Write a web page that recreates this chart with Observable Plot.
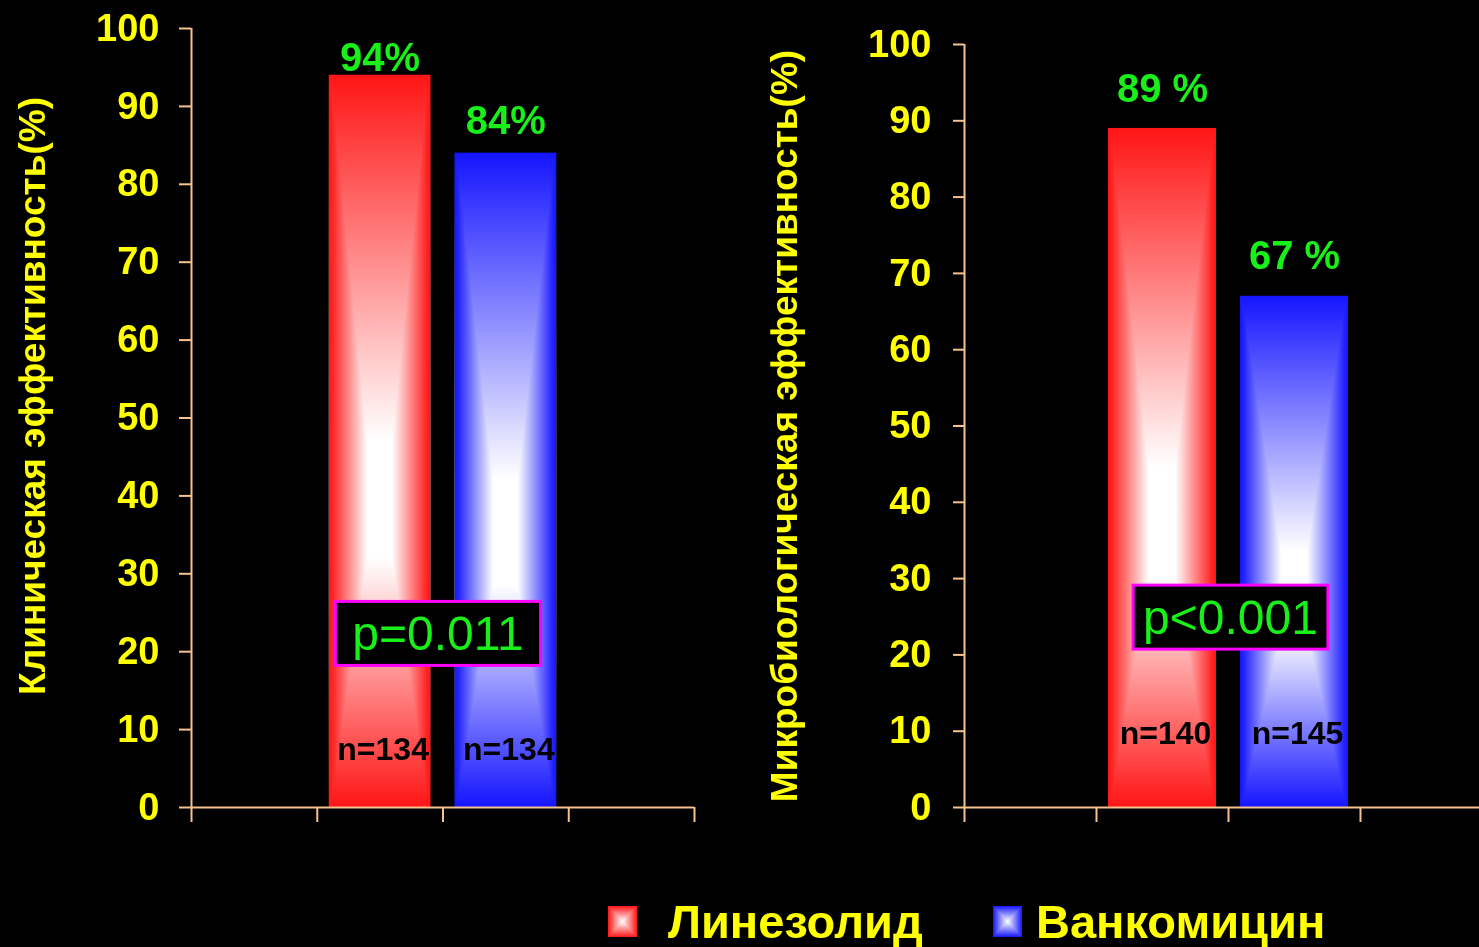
<!DOCTYPE html>
<html><head><meta charset="utf-8">
<script src="https://cdn.jsdelivr.net/npm/d3@7"></script>
<script src="https://cdn.jsdelivr.net/npm/@observablehq/plot@0.6"></script>
<style>
html,body{margin:0;background:#000;overflow:hidden}
#wrap{position:relative;width:1479px;height:947px;overflow:hidden;background:#000;font-family:"Liberation Sans",Arial,sans-serif}
.chart{position:absolute;top:0}
.litem{position:absolute;top:896px;display:flex;align-items:center;height:50px}
.sw{width:29px;height:31px;background-blend-mode:darken;box-sizing:border-box}
.lt{color:#ffff00;font-weight:bold;font-size:47px;line-height:1;white-space:nowrap}
</style></head>
<body>
<svg width="0" height="0" style="position:absolute">
<defs>
<linearGradient id="redV" x1="0" y1="0" x2="0" y2="1"><stop offset="0" stop-color="#ff1515"/><stop offset="0.5" stop-color="#ffffff"/><stop offset="0.66" stop-color="#ffffff"/><stop offset="1" stop-color="#ff1515"/></linearGradient>
<linearGradient id="redH" x1="0" y1="0" x2="1" y2="0"><stop offset="0" stop-color="#ff1515"/><stop offset="0.04" stop-color="#ff2525"/><stop offset="0.38" stop-color="#ffffff"/><stop offset="0.62" stop-color="#ffffff"/><stop offset="0.96" stop-color="#ff2525"/><stop offset="1" stop-color="#ff1515"/></linearGradient>
<linearGradient id="blueV" x1="0" y1="0" x2="0" y2="1"><stop offset="0" stop-color="#1515ff"/><stop offset="0.5" stop-color="#ffffff"/><stop offset="0.66" stop-color="#ffffff"/><stop offset="1" stop-color="#1515ff"/></linearGradient>
<linearGradient id="blueH" x1="0" y1="0" x2="1" y2="0"><stop offset="0" stop-color="#1515ff"/><stop offset="0.04" stop-color="#2525ff"/><stop offset="0.38" stop-color="#ffffff"/><stop offset="0.62" stop-color="#ffffff"/><stop offset="0.96" stop-color="#2525ff"/><stop offset="1" stop-color="#1515ff"/></linearGradient>
</defs></svg>
<div id="wrap">
  <div id="left" class="chart" style="left:0"></div>
  <div id="right" class="chart" style="left:740px"></div>
</div>
<script>
// ---- data ----
const drugs = ["Линезолид", "Ванкомицин"];
const clinicalValues = [94, 84];
const clinicalLabels = ["94%", "84%"];
const clinicalN = [134, 134];
const microValues = [89, 67];
const microLabels = ["89 %", "67 %"];
const microN = [140, 145];
const pValues = ["p=0.011", "p<0.001"];
const yTitles = ["Клиническая эффективность(%)", "Микробиологическая эффективность(%)"];
const yTicks = [0, 10, 20, 30, 40, 50, 60, 70, 80, 90, 100];
const slotTicks = [0, 1, 2, 3, 4];

// ---- style ----
const AXIS = "#f6c28e", YELLOW = "#ffff00", GREEN = "#19f019", MAGENTA = "#ff00ff";
const gradIds = ["red", "blue"];
const FONT = '"Liberation Sans", Arial, sans-serif';

function chart(cfg) {
  const rows = drugs.map((drug, i) => ({drug, slot: i + 1, value: cfg.values[i], n: cfg.ns[i], label: cfg.labels[i], grad: gradIds[i], i}));
  const marks = [];
  rows.forEach(r => {
    const opts = {x1: d => d.slot, x2: d => d.slot + 1, y1: () => 0, y2: d => d.value, insetLeft: 12, insetRight: 12};
    marks.push(Plot.rectY([r], {...opts, fill: `url(#${r.grad}V)`}));
    marks.push(Plot.rectY([r], {...opts, fill: `url(#${r.grad}H)`, mixBlendMode: "darken"}));
    marks.push(Plot.text([r], {x: d => d.slot + 0.5, y: d => d.value, text: d => d.label, lineAnchor: "bottom", dy: cfg.valueDy[r.i], fill: GREEN, fontSize: 40, fontWeight: "bold"}));
  });
  marks.push(Plot.text(rows, {x: d => d.slot + 0.5, y: () => 0, text: d => `n=${d.n}`, lineAnchor: "bottom", dy: cfg.nDy, dx: 3, fill: "#000", fontSize: 32, fontWeight: "bold"}));
  marks.push(Plot.text([cfg.p], {x: () => 2, y: () => cfg.pY, text: d => d, dx: cfg.pDx, lineAnchor: "middle", fill: GREEN, fontSize: 48, fontWeight: "normal"}));
  marks.push(Plot.ruleX([0], {stroke: AXIS, strokeWidth: 2}));
  marks.push(Plot.ruleY([0], {stroke: AXIS, strokeWidth: 2}));
  marks.push(Plot.axisY({ticks: yTicks, tickSize: cfg.tickSize, tickPadding: cfg.tickPadding, color: YELLOW, stroke: AXIS, strokeWidth: 2, fontSize: 38, fontWeight: "bold", label: null}));
  marks.push(Plot.axisX({ticks: slotTicks, tickSize: 15, tickFormat: () => "", color: AXIS, stroke: AXIS, strokeWidth: 2, label: null}));
  marks.push(Plot.text([cfg.title], {frameAnchor: "left", textAnchor: "middle", rotate: -90, dx: cfg.titleDx, dy: cfg.titleDy, text: d => d, fill: YELLOW, fontSize: 37, fontWeight: "bold"}));

  const svg = Plot.plot({
    width: cfg.width, height: 830,
    marginLeft: cfg.mLeft, marginRight: cfg.mRight, marginTop: cfg.mTop, marginBottom: 23,
    x: {domain: [0, slotTicks.length - 1]},
    y: {domain: [0, 100]},
    style: {background: "transparent", maxWidth: "none", overflow: "visible", fontFamily: FONT, color: YELLOW},
    marks
  });
  document.getElementById(cfg.id).appendChild(svg);
  // box around p-value text
  const t = d3.select(svg).selectAll("text").filter(function () { return this.textContent === cfg.p; }).node();
  if (t) {
    const sr = svg.getBoundingClientRect(), tr = t.getBoundingClientRect();
    const cy = tr.top + tr.height / 2 - sr.top;
    const g = t.closest("g");
    const rect = document.createElementNS("http://www.w3.org/2000/svg", "rect");
    rect.setAttribute("x", tr.left - sr.left - cfg.boxPadX);
    rect.setAttribute("width", tr.width + 2 * cfg.boxPadX);
    rect.setAttribute("y", cy - 32);
    rect.setAttribute("height", 64);
    rect.setAttribute("fill", "#000");
    rect.setAttribute("stroke", MAGENTA);
    rect.setAttribute("stroke-width", 3);
    g.parentNode.insertBefore(rect, g);
  }
}

chart({id: "left", values: clinicalValues, labels: clinicalLabels, ns: clinicalN, p: pValues[0], title: yTitles[0],
  width: 700, mLeft: 191, mRight: 6, mTop: 28, valueDy: [-4, -19], nDy: -48, pY: 22.2, pDx: -5,
  titleDx: -158, titleDy: -22, tickSize: 12, tickPadding: 20, boxPadX: 17});
chart({id: "right", values: microValues, labels: microLabels, ns: microN, p: pValues[1], title: yTitles[1],
  width: 760, mLeft: 224, mRight: 8, mTop: 44, valueDy: [-26, -27], nDy: -64, pY: 24.8, pDx: 2,
  titleDx: -179, titleDy: 0, tickSize: 11, tickPadding: 22, boxPadX: 10});

// legend
const legendLeft = [608, 993];
const legendGap = [31, 14];
const wrap = document.getElementById("wrap");
drugs.forEach((d, i) => {
  const c = i === 0 ? "#ff1515" : "#1515ff";
  const item = document.createElement("div");
  item.className = "litem";
  item.style.left = legendLeft[i] + "px";
  const sw = document.createElement("div");
  sw.className = "sw";
  sw.style.background = `linear-gradient(to bottom, ${c}, #fff, ${c}), linear-gradient(to right, ${c}, #fff, ${c})`;
  sw.style.backgroundBlendMode = "darken";
  sw.style.marginRight = legendGap[i] + "px";
  const tx = document.createElement("span");
  tx.className = "lt";
  tx.textContent = d;
  item.appendChild(sw); item.appendChild(tx);
  wrap.appendChild(item);
});
</script>
</body></html>
